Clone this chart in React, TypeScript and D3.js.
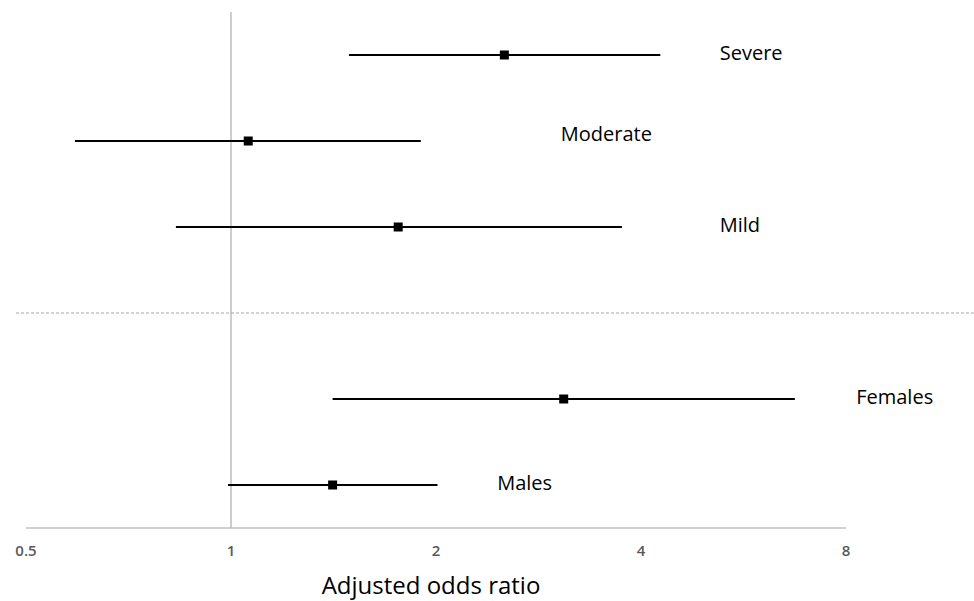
import React from "react";
import * as d3 from "d3";

const W = 974;
const H = 601;

// rows, top to bottom (slot 3 is the divider between the two groups)
const labels = ["Severe", "Moderate", "Mild", "Females", "Males"];
const slots = [0, 1, 2, 4, 5];
const ratio = [2.52, 1.06, 1.76, 3.08, 1.41];
const lower = [1.49, 0.59, 0.83, 1.41, 0.99];
const upper = [4.27, 1.9, 3.75, 6.73, 2.01];
const labelAt = [5.22, 3.05, 5.22, 8.28, 2.46];
const ticks = [0.5, 1, 2, 4, 8];

const App = () => {
  const x = d3.scaleLog().base(2).domain([0.5, 8]).range([26, 846]);
  const y = d3.scaleLinear().domain([-0.5, 5.5]).range([12, 528]);

  return (
    <svg
      width={W}
      height={H}
      style={{ position: "absolute", left: 0, top: 0, background: "#fff" }}
      fontFamily="'Open Sans', 'Liberation Sans', sans-serif"
    >
      {/* reference line at 1 */}
      <line x1={x(1)} x2={x(1)} y1={12} y2={528} stroke="#bdbdbd" strokeWidth={1.5} />
      {/* group divider */}
      <line x1={16} x2={974} y1={y(3)} y2={y(3)} stroke="#a6a6a6" strokeWidth={1} strokeDasharray="3,2" />
      {/* axis */}
      <line x1={26} x2={846} y1={528} y2={528} stroke="#bfbfbf" strokeWidth={1.5} />
      {ticks.map((t) => (
        <text
          key={t}
          x={x(t)}
          y={556}
          textAnchor="middle"
          fontSize={15}
          fontWeight={600}
          fill="#595959"
        >
          {t}
        </text>
      ))}
      <text x={431} y={594} textAnchor="middle" fontSize={24} fill="#000">
        Adjusted odds ratio
      </text>

      {labels.map((name, i) => {
        const cy = y(slots[i]);
        return (
          <g key={name}>
            <line x1={x(lower[i])} x2={x(upper[i])} y1={cy} y2={cy} stroke="#000" strokeWidth={2} />
            <rect x={x(ratio[i]) - 4.5} y={cy - 4.5} width={9} height={9} fill="#000" />
            <text x={x(labelAt[i])} y={cy - (i === 1 ? 7 : 2)} dy="0.35em" fontSize={20} fill="#000">
              {name}
            </text>
          </g>
        );
      })}
    </svg>
  );
};

export default App;
